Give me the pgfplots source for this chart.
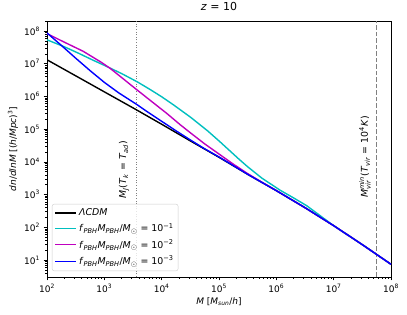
\documentclass[border=0pt]{standalone}
\usepackage{amsmath}
\usepackage{fontspec}
\setmainfont{DejaVu Sans}
\usepackage{pgfplots}
\pgfplotsset{compat=1.18}
\newcommand{\fpbh}[1]{\textit{f}\textsubscript{\textit{PBH}}\textit{M}\textsubscript{\textit{PBH}}/\textit{M}\textsubscript{$\odot$} = 10\textsuperscript{−#1}}
\definecolor{mplc}{rgb}{0,0.75,0.75}
\definecolor{mplm}{rgb}{0.75,0,0.75}
\begin{document}
\begin{tikzpicture}
\path[use as bounding box] (-47pt,-38pt) rectangle (360pt,277pt);
\begin{axis}[
  scale only axis, width=344pt, height=256pt,
  xmode=log, ymode=log,
  xmin=1e2, xmax=1e8, ymin=3.03, ymax=2.02e8,
  axis line style={line width=0.7pt},
  tick pos=left, tick align=outside,
  major tick length=3.5pt, minor tick length=2pt,
  every tick/.style={black, line width=0.6pt},
  xtick={1e2,1e3,1e4,1e5,1e6,1e7,1e8},
  xticklabels={10\textsuperscript{2},10\textsuperscript{3},10\textsuperscript{4},10\textsuperscript{5},10\textsuperscript{6},10\textsuperscript{7},10\textsuperscript{8}},
  minor xtick={200,300,400,500,600,700,800,900,2000,3000,4000,5000,6000,7000,8000,9000,2e4,3e4,4e4,5e4,6e4,7e4,8e4,9e4,2e5,3e5,4e5,5e5,6e5,7e5,8e5,9e5,2e6,3e6,4e6,5e6,6e6,7e6,8e6,9e6,2e7,3e7,4e7,5e7,6e7,7e7,8e7,9e7},
  ytick={1e1,1e2,1e3,1e4,1e5,1e6,1e7,1e8},
  yticklabels={10\textsuperscript{1},10\textsuperscript{2},10\textsuperscript{3},10\textsuperscript{4},10\textsuperscript{5},10\textsuperscript{6},10\textsuperscript{7},10\textsuperscript{8}},
  minor ytick={4,5,6,7,8,9,20,30,40,50,60,70,80,90,200,300,400,500,600,700,800,900,2000,3000,4000,5000,6000,7000,8000,9000,2e4,3e4,4e4,5e4,6e4,7e4,8e4,9e4,2e5,3e5,4e5,5e5,6e5,7e5,8e5,9e5,2e6,3e6,4e6,5e6,6e6,7e6,8e6,9e6,2e7,3e7,4e7,5e7,6e7,7e7,8e7,9e7,2e8},
  tick label style={font=\fontsize{9}{10}\selectfont},
  xlabel={\textit{M} [\textit{M}\textsubscript{\textit{sun}}/\textit{h}]},
  ylabel={\textit{dn}/\textit{dlnM} [(\textit{h}/\textit{Mpc})\textsuperscript{3}]},
  label style={font=\fontsize{9}{10}\selectfont},
  xlabel style={at={(axis description cs:0.5,-0.098)}, anchor=center},
  ylabel style={at={(axis description cs:-0.099,0.5)}, anchor=center},
  title={\textit{z} = 10},
  title style={font=\fontsize{11}{12}\selectfont, at={(axis description cs:0.5,1)}, anchor=south, yshift=1pt},
  legend cell align=left,
  legend style={at={(0.0145,0.0234)}, anchor=south west, font=\fontsize{9.4}{11}\selectfont,
    draw=black!20, rounded corners=2pt, fill=white, fill opacity=0.8, text opacity=1,
    row sep=2.2pt, inner sep=2.5pt},
  legend image code/.code={\draw[#1] (0pt,0pt) -- (21pt,0pt);},
]
\addplot[gray, line width=0.9pt, dash pattern=on 1pt off 1.6pt, forget plot] coordinates {(3700,3.03) (3700,2.02e8)};
\addplot[gray, line width=0.9pt, dash pattern=on 4.5pt off 2pt, forget plot] coordinates {(5.6e7,3.03) (5.6e7,2.02e8)};
\addplot[black, line width=1.4pt] coordinates {
(100,1.318e7) (316.2,4.27e6) (1000,1.380e6) (3162,4.47e5) (1e4,1.413e5) (31623,4.37e4)
(1e5,1.380e4) (316228,4170) (1e6,1318) (3.162e6,398) (1e7,112.2) (3.162e7,29.5) (1e8,7.41)};
\addlegendentry{\textit{ΛCDM}}
\addplot[mplc, line width=1.4pt] coordinates {
(100,5.37e7) (199.5,3.31e7) (354.8,2.09e7) (631,1.288e7) (1000,8.91e6) (1995,5.01e6)
(3715,2.82e6) (6310,1.622e6) (1e4,9.77e5) (15849,5.62e5) (31623,2.34e5) (63096,8.91e4)
(1e5,4.37e4) (158489,2.09e4) (223872,1.202e4) (316228,7079) (562341,3162) (1.175e6,1349)
(1.995e6,794) (3.388e6,457) (6.31e6,204) (1e7,112.2) (3.162e7,29.5) (1e8,7.41)};
\addlegendentry{\fpbh{1}}
\addplot[mplm, line width=1.4pt] coordinates {
(100,8.32e7) (199.5,4.57e7) (426.6,2.40e7) (891.3,1.096e7) (1259,7.24e6) (1995,3.80e6)
(3715,1.585e6) (6310,7.59e5) (12303,3.02e5) (20893,1.380e5) (31623,7.76e4) (56234,3.55e4)
(1e5,1.738e4) (177828,8511) (316228,4365) (562341,2371) (1e6,1334) (3.162e6,398)
(1e7,112.2) (3.162e7,29.5) (1e8,7.41)};
\addlegendentry{\fpbh{2}}
\addplot[blue, line width=1.4pt] coordinates {
(100,8.71e7) (177.8,3.63e7) (316.2,1.479e7) (562.3,6.17e6) (1000,2.69e6) (1778,1.288e6)
(3715,5.62e5) (5623,3.39e5) (1e4,1.738e5) (17783,8.91e4) (31623,4.68e4) (56234,2.51e4)
(1e5,1.413e4) (316228,4170) (1e6,1318) (3.162e6,398) (1e7,112.2) (3.162e7,29.5) (1e8,7.41)};
\addlegendentry{\fpbh{3}}
\node[rotate=90, font=\fontsize{9.4}{10}\selectfont] at (rel axis cs:0.224,0.418)
  {\textit{M}\textsubscript{\textit{J}}(\textit{T}\textsubscript{\textit{k}} = \textit{T}\textsubscript{\textit{ad}})};
\node[rotate=90, font=\fontsize{9.4}{10}\selectfont] at (rel axis cs:0.924,0.469)
  {\textit{M}$^{\text{\itshape min}}_{\text{\itshape vir}}$(\textit{T}\textsubscript{\textit{vir}} = 10\textsuperscript{4}\textit{K})};
\end{axis}
\end{tikzpicture}
\end{document}
